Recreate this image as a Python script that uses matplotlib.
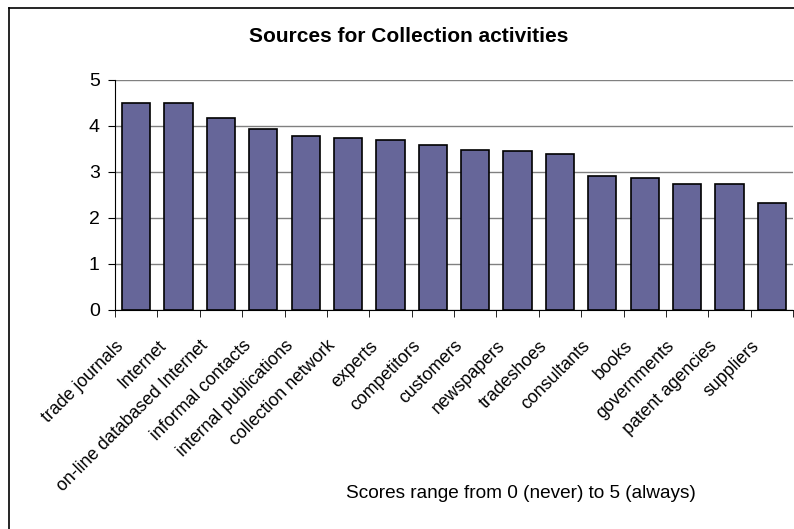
import numpy as np
import matplotlib
matplotlib.use("Agg")
import matplotlib.pyplot as plt
import matplotlib.transforms as mtransforms
from matplotlib.lines import Line2D

plt.rcParams['font.family'] = ['Liberation Sans', 'DejaVu Sans']

# Дані
sources = ["trade journals", "Internet", "on-line databased Internet", "informal contacts",
           "internal publications", "collection network", "experts", "competitors",
           "customers", "newspapers", "tradeshoes", "consultants", "books",
           "governments", "patent agencies", "suppliers"]
scores = [4.49, 4.49, 4.17, 3.93, 3.79, 3.73, 3.69, 3.58,
          3.48, 3.45, 3.38, 2.90, 2.86, 2.74, 2.74, 2.33]

fig = plt.figure(figsize=(7.94, 5.29), dpi=100)
ax = fig.add_axes([115 / 794, 1 - 309.5 / 529, 678 / 794, 229.5 / 529])

x = np.arange(len(sources))
ax.bar(x, scores, width=0.667, color="#666699", edgecolor="black", linewidth=1.2, zorder=3)

ax.set_xlim(-0.5, len(sources) - 0.5)
ax.set_ylim(0, 5)
ax.set_yticks(range(6))
ax.tick_params(axis="y", labelsize=14, length=5, direction="out", pad=6)
ax.yaxis.grid(True, color="#808080", linewidth=1, zorder=0)

# Підписи категорій під кутом 45°
ax.set_xticks(x)
ax.set_xticklabels(sources, rotation=45, ha="right", va="top", rotation_mode="anchor", fontsize=12.8)
ax.tick_params(axis="x", length=0, pad=10)
ax.set_xticks(np.arange(len(sources) + 1) - 0.5, minor=True)
ax.tick_params(axis="x", which="minor", length=5, direction="out")
shift = mtransforms.ScaledTranslation(-21 / 100, -14 / 100, fig.dpi_scale_trans)
for lbl in ax.get_xticklabels():
    lbl.set_transform(lbl.get_transform() + shift)

for side in ["top", "right"]:
    ax.spines[side].set_visible(False)
ax.spines["left"].set_color("black")
ax.spines["bottom"].set_color("black")

fig.text(409 / 794, 1 - 36 / 529, "Sources for Collection activities", ha="center", va="center",
         fontsize=15, fontweight="bold")
fig.text(521 / 794, 1 - 493 / 529, "Scores range from 0 (never) to 5 (always)", ha="center", va="center",
         fontsize=13.7)

# Рамка діаграми
fig.add_artist(Line2D([9 / 794, 9 / 794], [0, 1 - 8 / 529], transform=fig.transFigure, color="black", linewidth=1.2))
fig.add_artist(Line2D([9 / 794, 1], [1 - 8 / 529, 1 - 8 / 529], transform=fig.transFigure, color="black", linewidth=1.2))

fig.savefig("out.png", dpi=100)
